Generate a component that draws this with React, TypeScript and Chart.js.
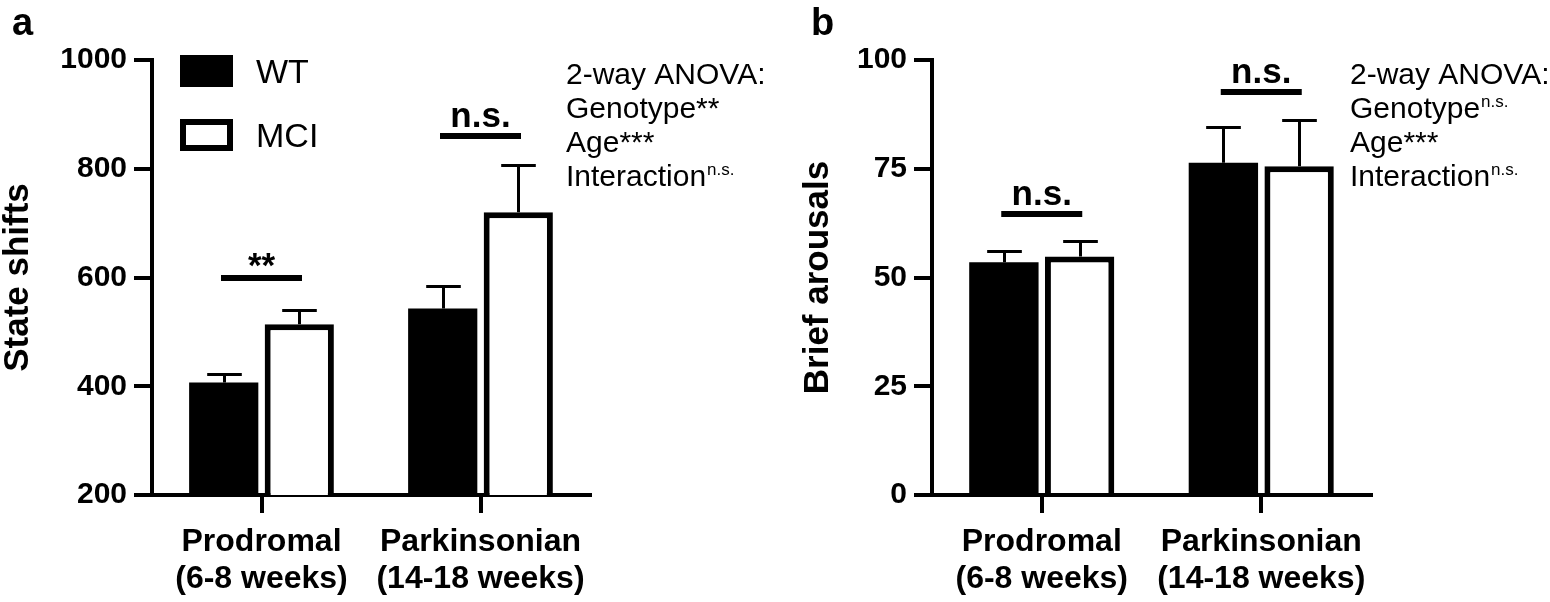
import React, { useEffect, useRef } from 'react';
import { Chart, registerables } from 'chart.js';

Chart.register(...registerables);

const FONT = "'Liberation Sans', Arial, Helvetica, sans-serif";
Chart.defaults.font.family = FONT;
Chart.defaults.color = '#000';

// ---------- data ----------
const categories = [['Prodromal', '(6-8 weeks)'], ['Parkinsonian', '(14-18 weeks)']];
const groupNames = ['WT', 'MCI'];

const stateShiftsWT = [407, 543];
const stateShiftsWTSem = [15.5, 41];
const stateShiftsMCI = [514, 720];
const stateShiftsMCISem = [26, 86];
const stateShiftsTicks = [200, 400, 600, 800, 1000];
const stateShiftsSigLabels = ['**', 'n.s.'];
const stateShiftsSigLevels = [600, 861];
const anovaLinesA = ['2-way ANOVA:', 'Genotype**', 'Age***', 'Interaction'];
const anovaSupA = ['', '', '', 'n.s.'];

const arousalsWT = [53.5, 76.4];
const arousalsWTSem = [2.6, 8.3];
const arousalsMCI = [54.8, 75.6];
const arousalsMCISem = [3.5, 10.6];
const arousalsTicks = [0, 25, 50, 75, 100];
const arousalsSigLabels = ['n.s.', 'n.s.'];
const arousalsSigLevels = [64.7, 92.6];
const anovaLinesB = ['2-way ANOVA:', 'Genotype', 'Age***', 'Interaction'];
const anovaSupB = ['', 'n.s.', '', 'n.s.'];

// ---------- plugin ----------
const overlayPlugin = {
  id: 'overlay',
  afterDatasetsDraw(chart: any, _args: any, opts: any) {
    const { ctx } = chart;
    const y = chart.scales.y;
    ctx.save();
    ctx.strokeStyle = '#000';
    ctx.lineWidth = 3;
    ctx.lineCap = 'butt';
    chart.data.datasets.forEach((ds: any, di: number) => {
      const meta = chart.getDatasetMeta(di);
      const sem = opts.sems[di];
      meta.data.forEach((el: any, i: number) => {
        const v = ds.data[i];
        const top = y.getPixelForValue(v);
        const end = y.getPixelForValue(v + sem[i]);
        const half = el.width / 4;
        const cx = Math.round(el.x) + 0.5;
        const ey = Math.round(end) + 0.5;
        ctx.beginPath();
        ctx.moveTo(cx, top);
        ctx.lineTo(cx, ey);
        ctx.moveTo(cx - half, ey);
        ctx.lineTo(cx + half, ey);
        ctx.stroke();
      });
    });
    ctx.restore();
  },
  afterDraw(chart: any, _args: any, opts: any) {
    const { ctx } = chart;
    const x = chart.scales.x;
    const y = chart.scales.y;
    ctx.save();
    ctx.fillStyle = '#000';
    ctx.strokeStyle = '#000';

    // significance bars
    opts.sigLabels.forEach((lab: string, i: number) => {
      const cx = x.getPixelForValue(i);
      const ly = Math.round(y.getPixelForValue(opts.sigLevels[i]));
      ctx.fillRect(cx - 40.5, ly - 3, 81, 6);
      ctx.font = `bold 35px ${FONT}`;
      ctx.textAlign = 'center';
      ctx.textBaseline = 'alphabetic';
      const m = ctx.measureText(lab);
      const centerY = ly - 18.5;
      const base = centerY + (m.actualBoundingBoxAscent - m.actualBoundingBoxDescent) / 2;
      ctx.fillText(lab, cx, base);
    });

    // panel letter
    ctx.font = `bold 38px ${FONT}`;
    ctx.textAlign = 'left';
    ctx.textBaseline = 'alphabetic';
    ctx.fillText(opts.letter, opts.letterX, 35);

    // legend
    if (opts.legend) {
      ctx.fillRect(180, 55, 53, 32);
      ctx.fillStyle = '#fff';
      ctx.fillRect(180, 119, 53, 32);
      ctx.fillStyle = '#000';
      ctx.lineWidth = 6;
      ctx.strokeRect(183, 122, 47, 26);
      ctx.font = `34px ${FONT}`;
      ctx.fillText(opts.legend[0], 256, 83);
      ctx.fillText(opts.legend[1], 256, 147);
    }

    // ANOVA text
    const ax = opts.anovaX;
    opts.anovaLines.forEach((line: string, i: number) => {
      const base = 84 + 34 * i;
      ctx.font = `30px ${FONT}`;
      ctx.fillText(line, ax, base);
      const w = ctx.measureText(line).width;
      const sup = opts.anovaSup[i];
      if (sup) {
        ctx.font = `17px ${FONT}`;
        ctx.fillText(sup, ax + w + 1, base - 11);
      }
    });
    ctx.restore();
  },
};

function makeConfig(p: any) {
  return {
    type: 'bar',
    data: {
      labels: categories,
      datasets: [
        {
          label: groupNames[0],
          data: p.wt,
          backgroundColor: '#000',
          borderWidth: 0,
          categoryPercentage: 0.69,
          barPercentage: 0.916,
        },
        {
          label: groupNames[1],
          data: p.mci,
          backgroundColor: '#fff',
          borderColor: '#000',
          borderWidth: 6,
          categoryPercentage: 0.69,
          barPercentage: 0.916,
        },
      ],
    },
    options: {
      responsive: false,
      maintainAspectRatio: false,
      animation: false,
      devicePixelRatio: 1,
      layout: { padding: { left: 0, right: p.padRight, top: 60, bottom: 0 } },
      plugins: {
        legend: { display: false },
        tooltip: { enabled: false },
        overlay: {
          sems: [p.wtSem, p.mciSem],
          sigLabels: p.sigLabels,
          sigLevels: p.sigLevels,
          letter: p.letter,
          letterX: p.letterX,
          legend: p.legend,
          anovaLines: p.anovaLines,
          anovaSup: p.anovaSup,
          anovaX: p.anovaX,
        },
      },
      scales: {
        x: {
          grid: {
            display: true,
            drawOnChartArea: false,
            drawTicks: true,
            tickLength: 18,
            lineWidth: 4,
            color: '#000',
            offset: false,
          },
          border: { display: true, width: 4, color: '#000' },
          ticks: {
            color: '#000',
            font: { family: FONT, size: 32, weight: 'bold', lineHeight: 1.17 },
            padding: 10,
            maxRotation: 0,
            autoSkip: false,
          },
          afterFit: (s: any) => {
            s.height = 107;
          },
        },
        y: {
          min: p.ticks[0],
          max: p.ticks[p.ticks.length - 1],
          ticks: {
            stepSize: p.ticks[1] - p.ticks[0],
            color: '#000',
            font: { family: FONT, size: 30, weight: 'bold' },
            padding: 7,
            callback: (v: any) => String(v),
          },
          grid: {
            display: true,
            drawOnChartArea: false,
            drawTicks: true,
            tickLength: 18,
            lineWidth: 4,
            color: '#000',
          },
          border: { display: true, width: 4, color: '#000' },
          title: {
            display: true,
            text: p.yTitle,
            color: '#000',
            font: { family: FONT, size: 35, weight: 'bold', lineHeight: 1.0 },
            padding: { top: p.titlePad, bottom: 0 },
          },
          afterFit: (s: any) => {
            s.width = p.yWidth;
          },
        },
      },
    },
    plugins: [overlayPlugin],
  } as any;
}

function Panel({ params, left }: { params: any; left: number }) {
  const ref = useRef<HTMLCanvasElement>(null);
  useEffect(() => {
    const chart = new Chart(ref.current as HTMLCanvasElement, makeConfig(params));
    return () => chart.destroy();
  }, []);
  return (
    <canvas
      ref={ref}
      width={775}
      height={602}
      style={{ position: 'absolute', left, top: 0, width: 775, height: 602, display: 'block' }}
    />
  );
}

export default function App() {
  const panelA = {
    wt: stateShiftsWT,
    wtSem: stateShiftsWTSem,
    mci: stateShiftsMCI,
    mciSem: stateShiftsMCISem,
    ticks: stateShiftsTicks,
    sigLabels: stateShiftsSigLabels,
    sigLevels: stateShiftsSigLevels,
    yTitle: 'State shifts',
    yWidth: 152,
    titlePad: 1,
    padRight: 185,
    letter: 'a',
    letterX: 12,
    legend: groupNames,
    anovaLines: anovaLinesA,
    anovaSup: anovaSupA,
    anovaX: 566,
  };
  const panelB = {
    wt: arousalsWT,
    wtSem: arousalsWTSem,
    mci: arousalsMCI,
    mciSem: arousalsMCISem,
    ticks: arousalsTicks,
    sigLabels: arousalsSigLabels,
    sigLevels: arousalsSigLevels,
    yTitle: 'Brief arousals',
    yWidth: 157,
    titlePad: 26,
    padRight: 179,
    letter: 'b',
    letterX: 36,
    legend: null,
    anovaLines: anovaLinesB,
    anovaSup: anovaSupB,
    anovaX: 575,
  };
  return (
    <div style={{ position: 'absolute', left: 0, top: 0, width: 1550, height: 602, background: '#fff' }}>
      <Panel params={panelA} left={0} />
      <Panel params={panelB} left={775} />
    </div>
  );
}
